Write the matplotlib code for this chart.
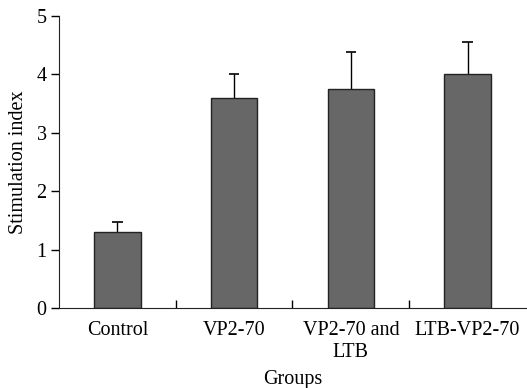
import matplotlib
matplotlib.use('Agg')
import numpy as np
from matplotlib import pyplot as plt

groups = ['Control', 'VP2-70', 'VP2-70 and\nLTB', 'LTB-VP2-70']
stim_index = [1.30, 3.60, 3.75, 4.00]
stim_err = [0.18, 0.40, 0.64, 0.55]

plt.rcParams['font.family'] = ['Liberation Serif', 'DejaVu Serif']

fig = plt.figure(figsize=(5.27, 3.88), dpi=100)
ax = fig.add_axes([0.112, 0.206, 0.886, 0.753])

x = np.arange(len(groups))
top = np.array(stim_index) + np.array(stim_err)
# error bars go up only, no lower cap
ax.vlines(x, stim_index, top, color='black', linewidth=1.0, zorder=1)
ax.hlines(top, x - 0.045, x + 0.045, color='black', linewidth=1.2, zorder=1)
ax.bar(x, stim_index, width=0.4, color='#676767', edgecolor='#222222', linewidth=1.0, zorder=2)

ax.set_xlim(-0.5, 3.5)
ax.set_ylim(0, 5)
ax.set_yticks(range(6))
ax.set_xticks(x)
ax.set_xticklabels(groups, fontsize=14.5, linespacing=1.25)
ax.set_xticks([0.5, 1.5, 2.5], minor=True)
ax.tick_params(axis='x', which='major', length=0, pad=9)
ax.tick_params(axis='x', which='minor', direction='in', length=6, width=1)
ax.tick_params(axis='y', direction='out', length=6, width=1, labelsize=14.5, pad=3)
ax.spines['top'].set_visible(False)
ax.spines['right'].set_visible(False)
ax.spines['left'].set_color('#222222')
ax.spines['bottom'].set_color('#222222')

ax.set_ylabel('Stimulation index', fontsize=14.5, labelpad=6)
ax.set_xlabel('Groups', fontsize=14.5, labelpad=6)

fig.savefig('out.png', dpi=100)
